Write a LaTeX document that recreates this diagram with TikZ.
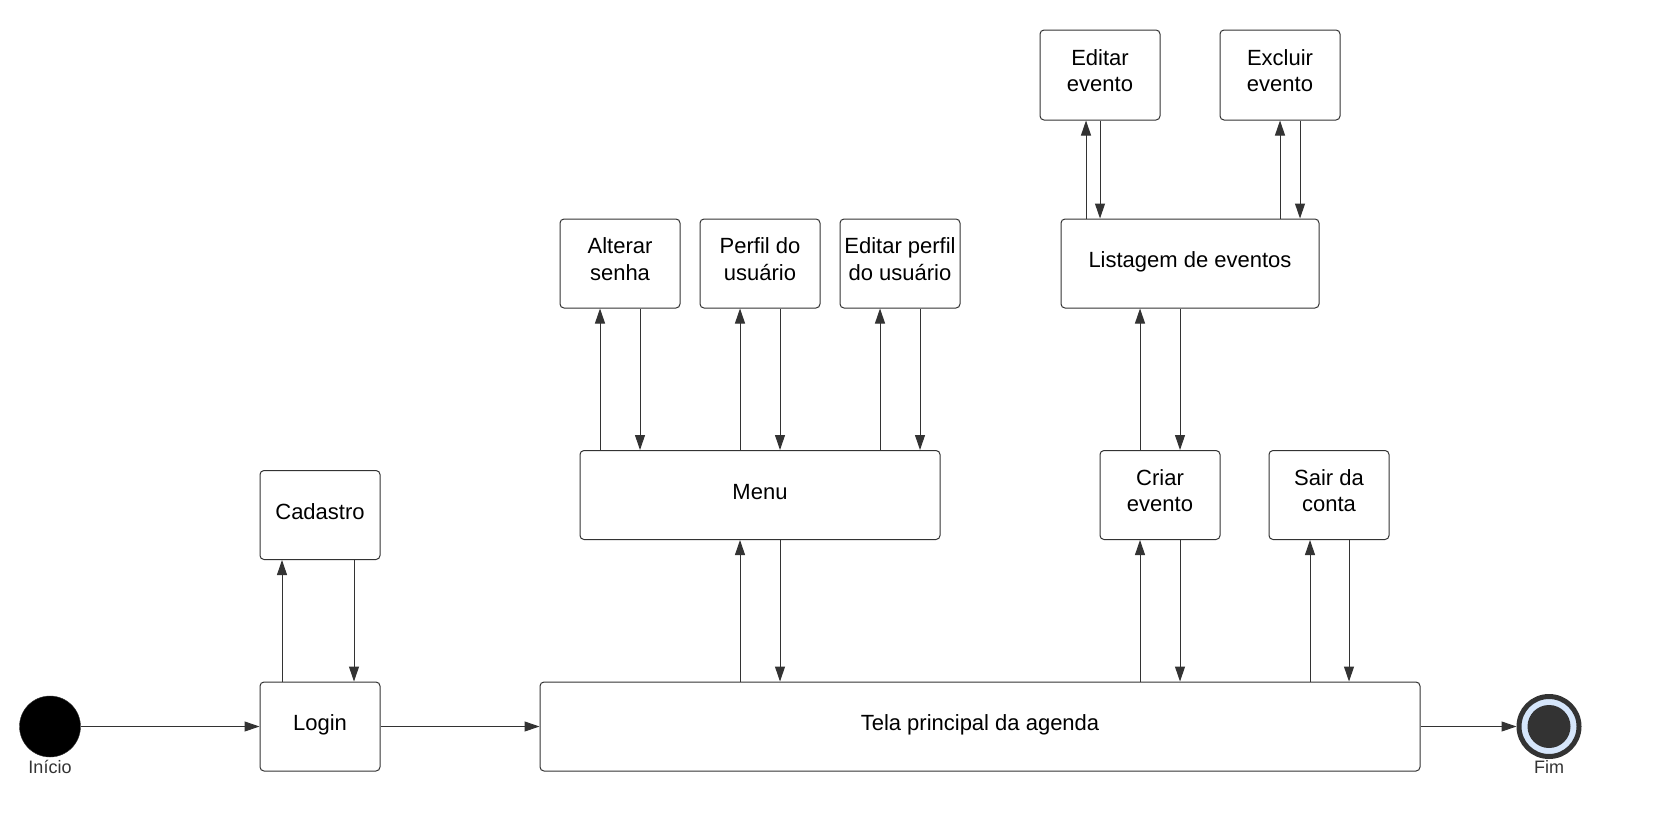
\documentclass[tikz,border=0pt]{standalone}
\usepackage{fontspec}
\setmainfont{Liberation Sans}
\usetikzlibrary{arrows.meta}
\definecolor{linha}{HTML}{333333}
\definecolor{azulfim}{HTML}{D6E6FB}
\newcommand{\IdaVolta}[4]{%
\draw[seta] ([xshift=#3]#2.south |- #1.north) -- ([xshift=#3]#2.south);
\draw[seta] ([xshift=#4]#2.south) -- ([xshift=#4]#2.south |- #1.north); }

\begin{document}
\begin{tikzpicture}[x=1pt, y=-1pt,
  estado/.style = {draw = linha, line width = 1pt, rounded corners = 4pt,
    minimum width = 120pt, minimum height = 89pt, align = center,
    inner sep = 0pt, font = \fontsize{22}{26.5}\selectfont,
    execute at begin node = {\rule{0pt}{18pt}},
    execute at end node = {\rule[-9.2pt]{0pt}{9.2pt}}},
  seta/.style = {draw = linha, line width = 1pt,
    -{Triangle[length = 15pt, width = 10pt]}},
  rotulo/.style = {text = linha, inner sep = 0pt,
    font = \fontsize{18}{20}\selectfont}]
  \useasboundingbox (0,0) rectangle (1678,836);

  % inicio e fim
  \node[circle, fill = black, draw = linha, minimum size = 61pt,
  inner sep = 0pt] (inicio) at (50,726.5) {};
  \node[rotulo] at (50,766.5) {Início};
  \node[circle, fill = azulfim, draw = linha, line width = 5pt,
  minimum size = 60pt, inner sep = 0pt,
  path picture = {\fill[linha] (path picture bounding box.center)
    circle[radius = 21.5pt];}] (fim) at (1549,726.5) {};
  \node[rotulo] at (1549,766.5) {Fim};

  % linha de baixo
  \node[estado] (login) at (320,726.5) {Login};
  \node[estado] (cad) at (320,515) {Cadastro};
  \node[estado, minimum width = 880pt] (tela) at (980,726.5)
  {Tela principal da agenda};

  % meio
  \node[estado, minimum width = 360pt] (menu) at (760,495) {Menu};
  \node[estado] (criar) at (1160,495) {Criar\\evento};
  \node[estado] (sair) at (1329,495) {Sair da\\conta};

  % topo
  \node[estado] (alterar) at (620,263.5) {Alterar\\senha};
  \node[estado] (perfil) at (760,263.5) {Perfil do\\usuário};
  \node[estado] (editperf) at (900,263.5) {Editar perfil\\do usuário};
  \node[estado, minimum width = 258pt] (lista) at (1190,263.5)
  {Listagem de eventos};
  \node[estado, minimum height = 90pt] (editev) at (1100,75)
  {Editar\\evento};
  \node[estado, minimum height = 90pt] (exclui) at (1280,75)
  {Excluir\\evento};

  \draw[seta] (inicio) -- (login);
  \draw[seta] (login) -- (tela);
  \draw[seta] (tela) -- (fim);

  \IdaVolta{login}{cad}{-38pt}{34pt}
  \IdaVolta{tela}{menu}{-20pt}{20pt}
  \foreach \n in {alterar, perfil, editperf} {
    \IdaVolta{menu}{\n}{-20pt}{20pt}
  }
  \IdaVolta{tela}{criar}{-20pt}{20pt}
  \IdaVolta{tela}{sair}{-19pt}{20pt}
  \IdaVolta{criar}{lista}{-50pt}{-10pt}
  \IdaVolta{lista}{editev}{-14pt}{0pt}
  \IdaVolta{lista}{exclui}{0pt}{20pt}
\end{tikzpicture}
\end{document}
